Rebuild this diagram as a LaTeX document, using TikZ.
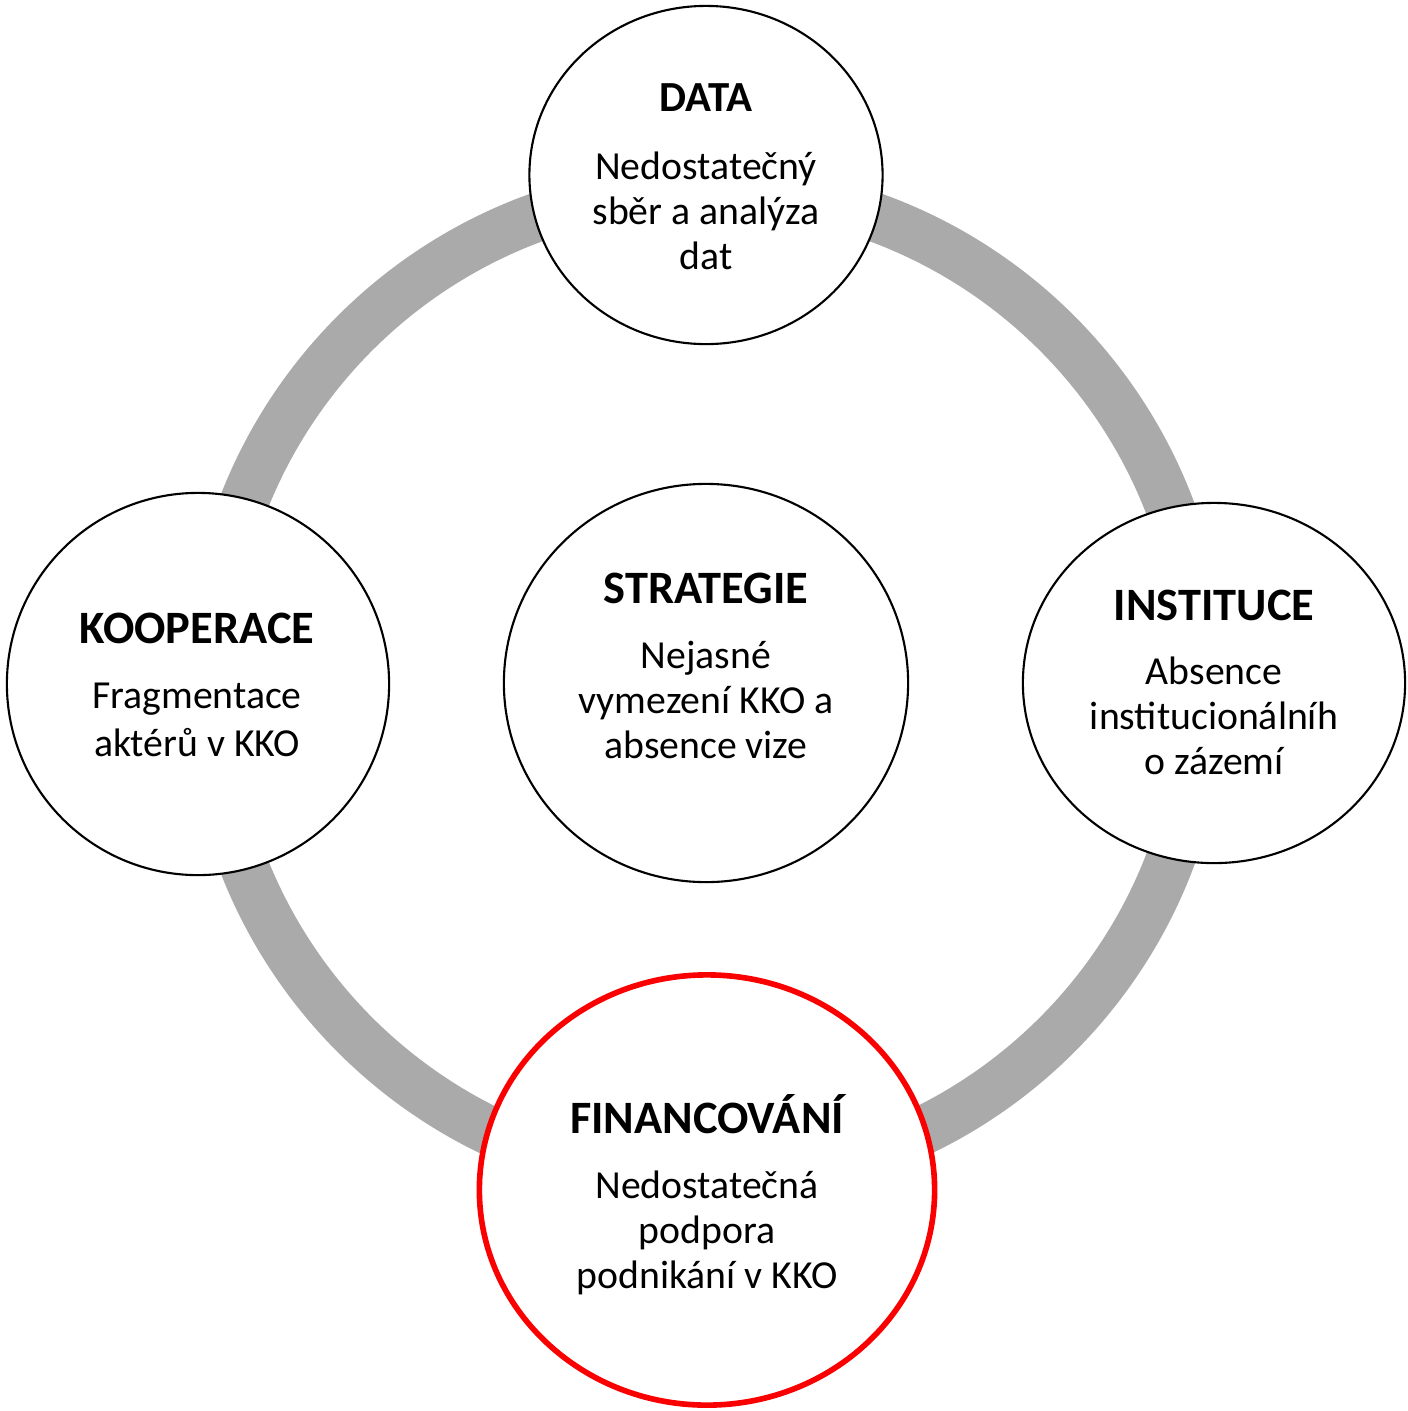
\documentclass[tikz,border=0pt]{standalone}
\usepackage{fontspec}
\setmainfont{Carlito}
\usepackage{tikz}
\usetikzlibrary{shapes.geometric}
\definecolor{ringgray}{RGB}{170,170,170}
\definecolor{finred}{RGB}{250,0,0}
\newcommand{\ttl}[2][13.2]{\fontsize{#1}{15}\selectfont\bfseries\rule{0pt}{10pt}#2}
\tikzset{
  ring/.style={draw=ringgray, line width=13.9pt},
  topic/.style={ellipse, draw, line width=0.6pt, fill=white, inner sep=0pt},
  keytopic/.style={topic, draw=finred, line width=1.6pt},
  topictext/.style={anchor=north, inner sep=0pt, align=center, font=\fontsize{11.3}{12.8}\selectfont},
}
\begin{document}
\begin{tikzpicture}[x=0.01cm, y=-0.01cm]
  \fill[white] (0,0) rectangle (1408,1411);
  \useasboundingbox (0,0) rectangle (1408,1411);

  % grey ring behind the circles
  \draw[ring] (706,684) circle[radius=4.96cm];

  % circles
  \node[topic, minimum width=3.53cm, minimum height=3.38cm] (data) at (706,175) {};
  \node[topic, minimum width=3.82cm, minimum height=3.82cm] (koop) at (198,684) {};
  \node[topic, minimum width=4.04cm, minimum height=3.98cm] (strat) at (706,683) {};
  \node[topic, minimum width=3.82cm, minimum height=3.60cm] (inst) at (1214,683) {};
  \node[keytopic, minimum width=4.55cm, minimum height=4.30cm] (fin) at (707,1190) {};

  % texts
  \node[topictext] (datatext) at (706,76) {\ttl[12.2]{DATA}\\[6.3pt]Nedostatečný\\sběr a analýza\\dat};
  \node[topictext] (kooptext) at (197,608) {\ttl{KOOPERACE}\\[5.6pt]Fragmentace\\[0.8pt]aktérů v KKO};
  \node[topictext] (strattext) at (706,568) {\ttl{STRATEGIE}\\[5.6pt]Nejasné\\vymezení KKO a\\absence vize};
  \node[topictext] (insttext) at (1214,585) {\ttl{INSTITUCE}\\[5.4pt]Absence\\institucionálníh\\o zázemí};
  \node[topictext] (fintext) at (707,1094) {\ttl{FINANCOVÁNÍ}\\[5.6pt]Nedostatečná\\podpora\\podnikání v KKO};
\end{tikzpicture}
\end{document}
